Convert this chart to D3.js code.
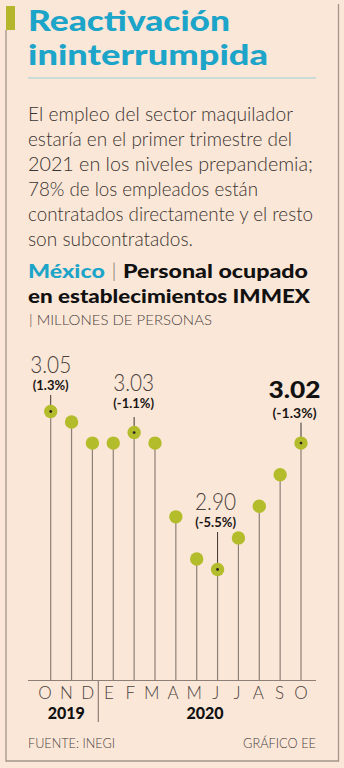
<!DOCTYPE html>
<html>
<head>
<meta charset="utf-8">
<script src="https://cdn.jsdelivr.net/npm/d3@7"></script>
<style>
  html, body { margin: 0; padding: 0; background: #fbe7d8; }
  svg { display: block; }
</style>
</head>
<body>
<script>
// Personal ocupado en establecimientos IMMEX (millones de personas)
const months = ["O", "N", "D", "E", "F", "M", "A", "M", "J", "J", "A", "S", "O"];
const values = [3.05, 3.04, 3.02, 3.02, 3.03, 3.02, 2.95, 2.91, 2.90, 2.93, 2.96, 2.99, 3.02];
const years = [
  { year: "2019", from: 0, to: 2 },
  { year: "2020", from: 3, to: 12 }
];
// Highlighted points: index, value label, variation label
const callouts = [
  { i: 0, value: "3.05", change: "(1.3%)", strong: false },
  { i: 4, value: "3.03", change: "(-1.1%)", strong: false },
  { i: 8, value: "2.90", change: "(-5.5%)", strong: false },
  { i: 12, value: "3.02", change: "(-1.3%)", strong: true }
];
const bodyLines = [
  "El empleo del sector maquilador",
  "estaría en el primer trimestre del",
  "2021 en los niveles prepandemia;",
  "78% de los empleados están",
  "contratados directamente y el resto",
  "son subcontratados."
];

const W = 344, H = 768;
const TEAL = "#1ca4c9", OLIVE = "#b3bd2b", LINE = "#8d7f76", FRAME = "#a39589";
const FONT = "Lato, 'Open Sans', sans-serif";

// stretch a text run to a set width, as the condensed-geometric face sets wide
function fit(sel, width) {
  sel.attr("textLength", width).attr("lengthAdjust", "spacingAndGlyphs");
  return sel;
}

const svg = d3.select("body").append("svg").attr("width", W).attr("height", H);
svg.append("rect").attr("width", W).attr("height", H).attr("fill", "#fbe7d8");

// frame
svg.append("rect").attr("x", 6).attr("y", 6).attr("width", 9).attr("height", 24).attr("fill", "#b4b62c");
svg.append("path")
  .attr("d", "M6,30 V761 H338.5 V4")
  .attr("fill", "none").attr("stroke", FRAME).attr("stroke-width", 1.3);

// title
const titleStyle = s => s.attr("fill", TEAL).style("font-family", FONT)
  .style("font-weight", 900).style("font-size", "29px");
fit(svg.append("text").attr("x", 28).attr("y", 31).call(titleStyle).text("Reactivación"), 202);
fit(svg.append("text").attr("x", 28).attr("y", 65).call(titleStyle).text("ininterrumpida"), 240);
svg.append("line").attr("x1", 28).attr("x2", 316).attr("y1", 78).attr("y2", 78)
  .attr("stroke", "#9ccfd6").attr("stroke-width", 1.2);

// body copy
const bodyWidths = [265, 264, 285, 230, 285, 165];
svg.append("g").selectAll("text").data(bodyLines).join("text")
  .attr("x", 28).attr("y", (d, i) => 121 + i * 25)
  .attr("fill", "#3a3430")
  .style("font-family", FONT).style("font-weight", 300).style("font-size", "19px")
  .attr("textLength", (d, i) => bodyWidths[i]).attr("lengthAdjust", "spacingAndGlyphs")
  .text(d => d);

// chart heading
const h1 = svg.append("text").attr("x", 28).attr("y", 278)
  .style("font-family", FONT).style("font-weight", 900).style("font-size", "19px");
h1.append("tspan").attr("fill", TEAL).text("México");
h1.append("tspan").attr("fill", "#8a8078").style("font-weight", 300).text(" | ");
h1.append("tspan").attr("fill", "#111").text("Personal ocupado");
fit(h1, 280);
fit(svg.append("text").attr("x", 28).attr("y", 303).attr("fill", "#111")
  .style("font-family", FONT).style("font-weight", 900).style("font-size", "19px")
  .text("en establecimientos IMMEX"), 282);
fit(svg.append("text").attr("x", 29).attr("y", 325).attr("fill", "#4a423d")
  .style("font-family", FONT).style("font-weight", 300).style("font-size", "14px")
  .text("| MILLONES DE PERSONAS"), 183);

// scales
const x = d3.scalePoint().domain(d3.range(months.length)).range([50.7, 301]);
const xLabel = d3.scalePoint().domain(d3.range(months.length)).range([45, 301]);
const y = d3.scaleLinear().domain([2.90, 3.05]).range([569.5, 411.5]);
const baseY = 680.5;

// callout placement relative to each highlighted dot
const calloutPos = {
  0:  { dx: 0,    value: -38.5, change: -21.5, lead: -16.5 },
  4:  { dx: -0.5, value: -41.5, change: -25,   lead: -15.5 },
  8:  { dx: -2,   value: -60,   change: -43,   lead: -37.5 },
  12: { dx: -6.5, value: -45,   change: -25,   lead: -20.5 }
};

// stems
svg.append("g").selectAll("line").data(values).join("line")
  .attr("x1", (d, i) => x(i)).attr("x2", (d, i) => x(i))
  .attr("y1", d => y(d)).attr("y2", baseY)
  .attr("stroke", LINE).attr("stroke-width", 1.2);

// callout leaders above highlighted dots
svg.append("g").selectAll("line").data(callouts).join("line")
  .attr("x1", d => x(d.i)).attr("x2", d => x(d.i))
  .attr("y1", d => y(values[d.i]) + calloutPos[d.i].lead).attr("y2", d => y(values[d.i]))
  .attr("stroke", "#3a3430").attr("stroke-width", 1);

// dots
svg.append("g").selectAll("circle").data(values).join("circle")
  .attr("cx", (d, i) => x(i)).attr("cy", d => y(d)).attr("r", 6.7)
  .attr("fill", OLIVE);
svg.append("g").selectAll("circle").data(callouts).join("circle")
  .attr("cx", d => x(d.i)).attr("cy", d => y(values[d.i])).attr("r", 1.4)
  .attr("fill", "#2a2420");

// callout labels
const lab = svg.append("g").selectAll("g").data(callouts).join("g")
  .attr("transform", d => `translate(${x(d.i) + calloutPos[d.i].dx},${y(values[d.i])})`);
lab.append("text")
  .attr("text-anchor", "middle")
  .attr("y", d => calloutPos[d.i].value)
  .attr("fill", d => d.strong ? "#111" : "#4a423d")
  .style("font-family", FONT)
  .style("font-weight", d => d.strong ? 900 : 300)
  .style("font-size", "23px")
  .attr("textLength", d => d.strong ? 52 : 41).attr("lengthAdjust", "spacingAndGlyphs")
  .text(d => d.value);
lab.append("text")
  .attr("text-anchor", "middle")
  .attr("y", d => calloutPos[d.i].change)
  .attr("fill", "#1a1614")
  .style("font-family", FONT).style("font-weight", 700)
  .style("font-size", d => d.strong ? "14px" : "13px")
  .text(d => d.change);

// axis
svg.append("line").attr("x1", 28).attr("x2", 316).attr("y1", baseY).attr("y2", baseY)
  .attr("stroke", LINE).attr("stroke-width", 1.2);
svg.append("g").selectAll("text").data(months).join("text")
  .attr("x", (d, i) => xLabel(i)).attr("y", 699)
  .attr("text-anchor", "middle").attr("fill", "#4a423d")
  .style("font-family", FONT).style("font-weight", 300).style("font-size", "17px")
  .text(d => d);
// year divider between D and E
const divX = (xLabel(2) + xLabel(3)) / 2;
svg.append("line").attr("x1", divX).attr("x2", divX).attr("y1", baseY).attr("y2", 722)
  .attr("stroke", LINE).attr("stroke-width", 1.2);
svg.append("g").selectAll("text").data(years).join("text")
  .attr("x", d => (xLabel(d.from) + xLabel(d.to)) / 2)
  .attr("y", 719).attr("text-anchor", "middle").attr("fill", "#111")
  .style("font-family", FONT).style("font-weight", 900).style("font-size", "16px")
  .text(d => d.year);

// footer
fit(svg.append("text").attr("x", 28).attr("y", 748).attr("fill", "#4a423d")
  .style("font-family", FONT).style("font-weight", 300).style("font-size", "13px")
  .text("FUENTE: INEGI"), 87);
fit(svg.append("text").attr("x", 243).attr("y", 748).attr("fill", "#4a423d")
  .style("font-family", FONT).style("font-weight", 300).style("font-size", "13px")
  .text("GRÁFICO EE"), 73);
</script>
</body>
</html>
